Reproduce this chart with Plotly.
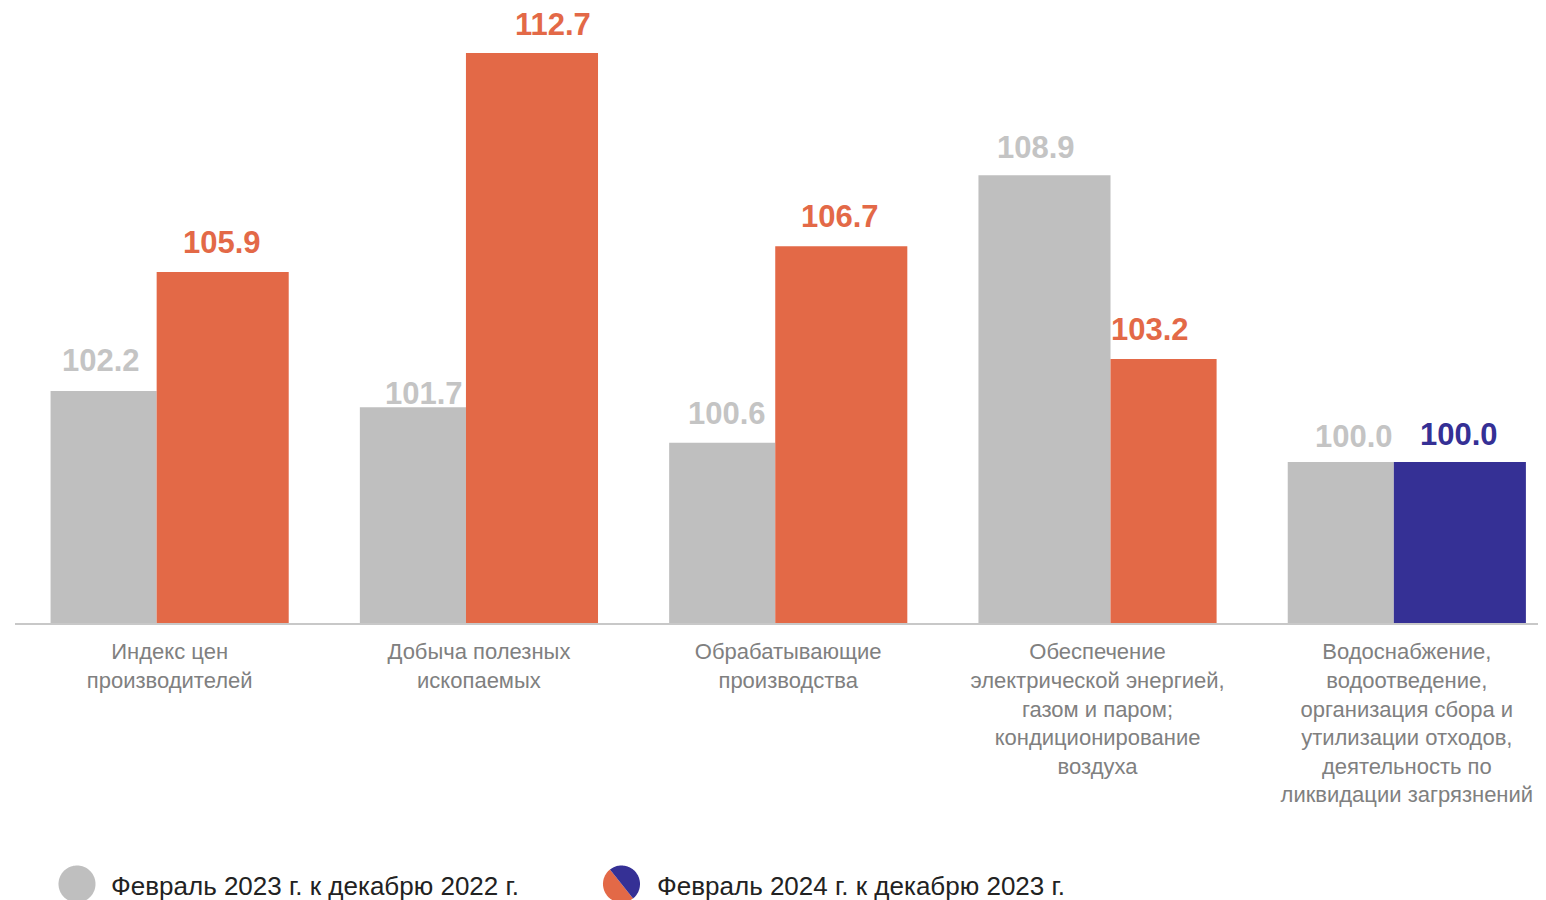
import numpy as np
import plotly.graph_objects as go

# ---------------- data ----------------
categories = [
    "Индекс цен<br>производителей",
    "Добыча полезных<br>ископаемых",
    "Обрабатывающие<br>производства",
    "Обеспечение<br>электрической энергией,<br>газом и паром;<br>кондиционирование<br>воздуха",
    "Водоснабжение,<br>водоотведение,<br>организация сбора и<br>утилизации отходов,<br>деятельность по<br>ликвидации загрязнений",
]
feb2023 = [102.2, 101.7, 100.6, 108.9, 100.0]
feb2024 = [105.9, 112.7, 106.7, 103.2, 100.0]
legend_names = ["Февраль 2023 г. к декабрю 2022 г.", "Февраль 2024 г. к декабрю 2023 г."]

# ---------------- style ----------------
GRAY = "#bfbfbf"
GRAY_TXT = "#c4c4c4"
ORANGE = "#e36947"
BLUE = "#353095"
FONT = "Liberation Sans, Arial, sans-serif"
new_colors = [ORANGE, ORANGE, ORANGE, ORANGE, BLUE]

PAGE = 8                       # default body margin of the html page
W, H = 1546 - PAGE, 900 - PAGE
ML, MR, MT, MB = 15 - PAGE, 0, 0, 900 - 623
x_range = [-0.5, 4.45]
y_range = [95, 95 + (623 - PAGE) / 32.205]

span_left = -0.385
bar_w = 0.427
overlap = 2 * bar_w - 2 * abs(span_left)
gray_on_top = [False, False, False, True, False]

n = len(categories)
xi = np.arange(n)
g_width = [bar_w if t else bar_w - overlap for t in gray_on_top]
n_off = [span_left + bar_w - overlap + (overlap if t else 0) for t in gray_on_top]
n_width = [bar_w - overlap if t else bar_w for t in gray_on_top]

fig = go.Figure()
fig.add_trace(go.Bar(x=xi, y=feb2023, width=g_width, offset=[span_left] * n,
                     marker=dict(color=GRAY, line=dict(width=0)), name=legend_names[0],
                     showlegend=False, hoverinfo="skip"))
fig.add_trace(go.Bar(x=xi, y=feb2024, width=n_width, offset=n_off,
                     marker=dict(color=new_colors, line=dict(width=0)), name=legend_names[1],
                     showlegend=False, hoverinfo="skip"))

# value labels (pixel shifts relative to category centre)
g_dx = [-69, -55, -61, -62, -53]
n_dx = [52, 74, 52, 52, 52]
g_dy = [11, -6, 10, 8, 6]
n_dy = [10, 9, 10, 10, 8]
for i in range(n):
    fig.add_annotation(x=i, y=feb2023[i], xref="x", yref="y", text=f"{feb2023[i]:.1f}",
                       showarrow=False, xanchor="center", yanchor="bottom",
                       xshift=g_dx[i], yshift=g_dy[i],
                       font=dict(family=FONT, size=31, color=GRAY_TXT, weight="bold"))
    fig.add_annotation(x=i, y=feb2024[i], xref="x", yref="y", text=f"{feb2024[i]:.1f}",
                       showarrow=False, xanchor="center", yanchor="bottom",
                       xshift=n_dx[i], yshift=n_dy[i],
                       font=dict(family=FONT, size=31, color=new_colors[i], weight="bold"))

# ---------------- custom legend ----------------
pw = W - ML - MR
ph = H - MT - MB

def to_paper(px, py):
    """page pixel -> paper coords"""
    return (px - PAGE - ML) / pw, (H - MB - (py - PAGE)) / ph

def poly_path(pts):
    s = ""
    for k, (px, py) in enumerate(pts):
        u, v = to_paper(px, py)
        s += ("M" if k == 0 else "L") + f"{u:.5f},{v:.5f} "
    return s + "Z"

R = 18.5
cy = 884
c1x, c2x = 77, 621.5
t = np.linspace(0, 2 * np.pi, 90)
fig.add_shape(type="path", xref="paper", yref="paper",
              path=poly_path(list(zip(c1x + R * np.cos(t), cy + R * np.sin(t)))),
              fillcolor=GRAY, line=dict(width=0), layer="above")
ang = np.arctan2(0.781, 0.625)
ta = np.linspace(ang, ang + np.pi, 60)      # lower-left half
tb = np.linspace(ang - np.pi, ang, 60)      # upper-right half
fig.add_shape(type="path", xref="paper", yref="paper",
              path=poly_path(list(zip(c2x + R * np.cos(ta), cy + R * np.sin(ta)))),
              fillcolor=ORANGE, line=dict(width=0), layer="above")
fig.add_shape(type="path", xref="paper", yref="paper",
              path=poly_path(list(zip(c2x + R * np.cos(tb), cy + R * np.sin(tb)))),
              fillcolor=BLUE, line=dict(width=0), layer="above")
for px, name in [(109, legend_names[0]), (655, legend_names[1])]:
    u, v = to_paper(px, 886)
    fig.add_annotation(x=u, y=v, xref="paper", yref="paper", text=name, showarrow=False,
                       xanchor="left", yanchor="middle",
                       font=dict(family=FONT, size=26, color="#222222"))

fig.update_layout(
    width=W, height=H,
    margin=dict(l=ML, r=MR, t=MT, b=MB),
    paper_bgcolor="white", plot_bgcolor="white",
    barmode="overlay", showlegend=False,
    font=dict(family=FONT),
)
fig.update_xaxes(range=x_range, tickmode="array", tickvals=list(xi), ticktext=categories,
                 showgrid=False, zeroline=False, showline=True, linecolor="#c8c8c8",
                 linewidth=2, ticks="", ticklabelstandoff=8,
                 tickfont=dict(family=FONT, size=22, color="#808080"))
fig.update_yaxes(range=y_range, visible=False, showgrid=False, zeroline=False)

fig.write_html("out.html")
